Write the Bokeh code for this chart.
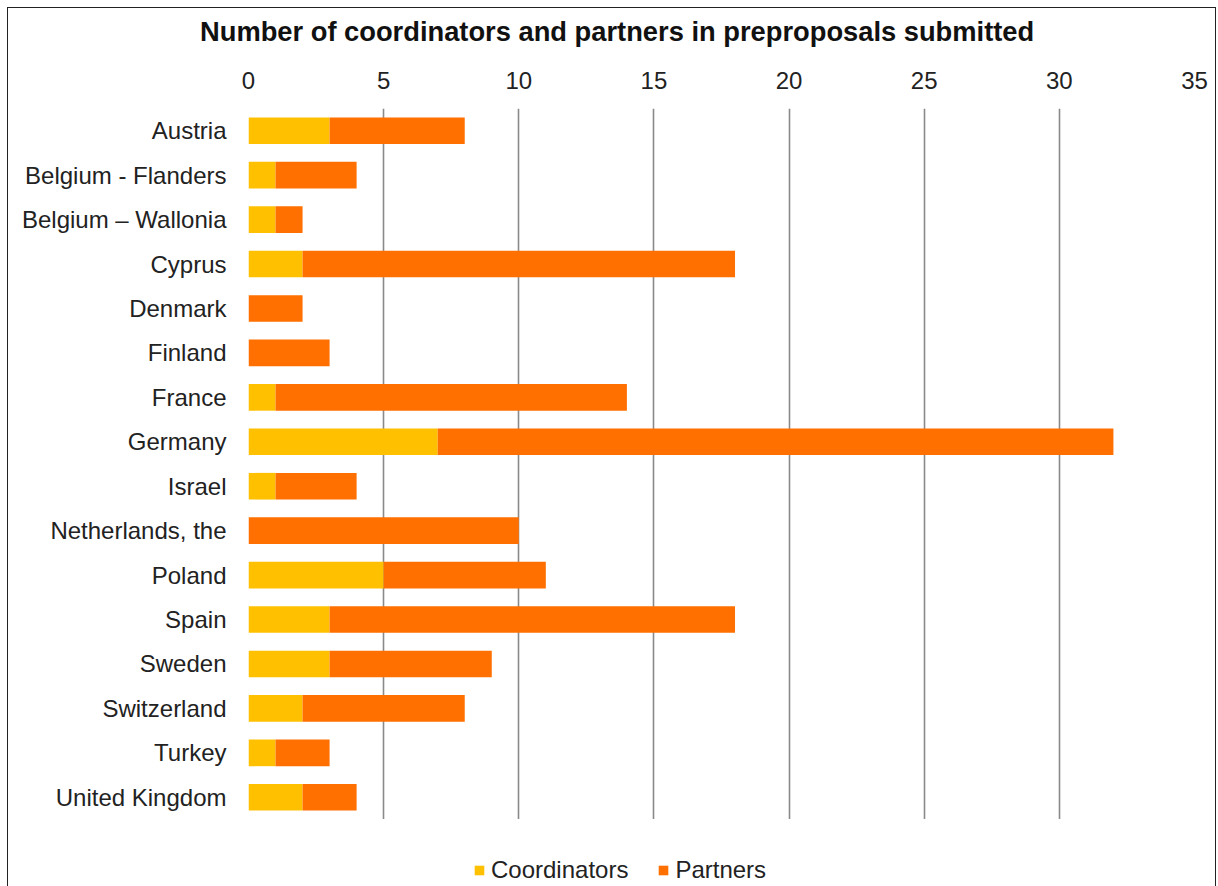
from bokeh.plotting import figure
from bokeh.models import (FactorRange, Range1d, FixedTicker, Legend, LegendItem, ColumnDataSource, Div)
from bokeh.layouts import column
from bokeh.embed import file_html
from bokeh.resources import INLINE

countries = ["Austria", "Belgium - Flanders", "Belgium \u2013 Wallonia", "Cyprus", "Denmark", "Finland",
             "France", "Germany", "Israel", "Netherlands, the", "Poland", "Spain", "Sweden",
             "Switzerland", "Turkey", "United Kingdom"]
coordinators = [3, 1, 1, 2, 0, 0, 1, 7, 1, 0, 5, 3, 3, 2, 1, 2]
partners = [5, 3, 1, 16, 2, 3, 13, 25, 3, 10, 6, 15, 6, 6, 2, 2]
series = ["Coordinators", "Partners"]
colors = ["#FFC000", "#FF7000"]
x_ticks = [0, 5, 10, 15, 20, 25, 30, 35]
title_text = "Number of coordinators and partners in preproposals submitted"

FONT = "Liberation Sans"
W = 1207

src = ColumnDataSource(dict(country=countries, Coordinators=coordinators, Partners=partners))

p = figure(y_range=FactorRange(factors=list(reversed(countries))), x_range=Range1d(0, 35),
           frame_width=946, frame_height=711,
           min_border_left=240, min_border_right=21, min_border_top=52, min_border_bottom=0,
           output_backend="svg", toolbar_location=None, x_axis_location="above")

renderers = p.hbar_stack(series, y="country", height=0.6, color=colors, source=src, line_color=None)

p.outline_line_color = None
p.ygrid.grid_line_color = None
p.xgrid.grid_line_color = "#8a8a8a"
p.xgrid.grid_line_width = 1.6
p.xgrid.ticker = FixedTicker(ticks=x_ticks)

xa = p.xaxis[0]
xa.ticker = FixedTicker(ticks=x_ticks)
xa.axis_line_color = None
xa.major_tick_out = 0
xa.major_tick_in = 0
xa.major_tick_line_color = None
xa.minor_tick_line_color = None
xa.major_label_standoff = 20
xa.major_label_text_font = FONT
xa.major_label_text_font_size = "24px"
xa.major_label_text_color = "#222"

ya = p.yaxis[0]
ya.axis_line_color = None
ya.major_tick_line_color = None
ya.minor_tick_line_color = None
ya.major_label_standoff = 16
ya.major_label_text_font = FONT
ya.major_label_text_font_size = "24px"
ya.major_label_text_color = "#222"

# legend strip below the chart (key glyphs sit outside the visible range)
lf = figure(x_range=Range1d(0, 1), y_range=Range1d(0, 1), frame_width=W, frame_height=67,
            min_border_left=0, min_border_right=0, min_border_top=0, min_border_bottom=0,
            output_backend="svg", toolbar_location=None)
lf.axis.visible = False
lf.grid.visible = False
lf.outline_line_color = None
key_renderers = [lf.hbar(y=[5], left=[0], right=[0], height=0.6, color=c, line_color=None) for c in colors]
legend = Legend(items=[LegendItem(label=s, renderers=[r]) for s, r in zip(series, key_renderers)],
                orientation="horizontal", location=(465, 2), padding=0, margin=0, spacing=29,
                label_standoff=6, glyph_width=12, glyph_height=12, border_line_color=None,
                background_fill_alpha=0, label_text_font=FONT, label_text_font_size="24px",
                label_text_color="#222", label_height=24)
lf.add_layout(legend, "center")

title = Div(text=title_text, width=W, height=48, margin=0,
            styles={"font-family": FONT, "font-size": "27.3px", "font-weight": "bold", "color": "#111",
                    "line-height": "48px", "padding-left": "192px", "white-space": "nowrap"})

layout = column(title, p, lf, spacing=0,
                styles={"border": "1px solid #222", "margin-left": "7px", "margin-top": "7px",
                        "background-color": "white"})

open("out.html", "w").write(file_html(layout, INLINE))
